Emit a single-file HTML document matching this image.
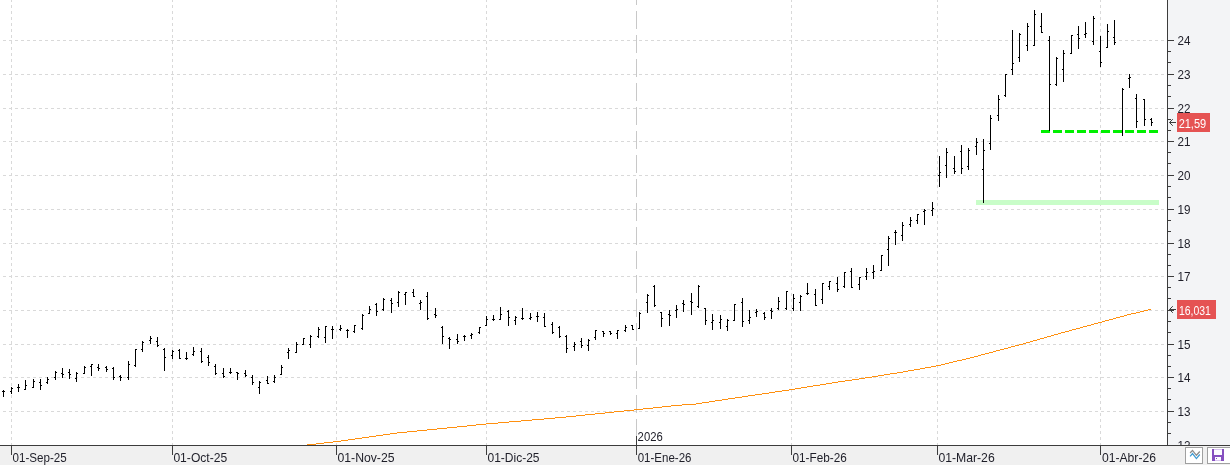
<!DOCTYPE html>
<html><head><meta charset="utf-8"><title>Chart</title>
<style>
html,body{margin:0;padding:0;background:#fff;}
body{width:1230px;height:465px;overflow:hidden;position:relative;}
svg{position:absolute;left:0;top:0;display:block;}
svg text{font-family:"Liberation Sans",Arial,sans-serif;font-size:12.4px;fill:#1e1e28;}
</style></head><body>
<svg width="1230" height="465" viewBox="0 0 1230 465" shape-rendering="crispEdges">
<rect x="0" y="0" width="1230" height="465" fill="#ffffff"/>
<rect x="1168" y="0" width="62" height="445" fill="#f3f4f6"/>
<rect x="0" y="446" width="1230" height="19" fill="#f0f0f0"/>
<g stroke="#d9d9d9" stroke-width="1" stroke-dasharray="3 3" fill="none">
<line x1="0" y1="40.5" x2="1167" y2="40.5" stroke-dashoffset="3"/>
<line x1="0" y1="74.5" x2="1167" y2="74.5" stroke-dashoffset="3"/>
<line x1="0" y1="108.5" x2="1167" y2="108.5" stroke-dashoffset="3"/>
<line x1="0" y1="141.5" x2="1167" y2="141.5" stroke-dashoffset="3"/>
<line x1="0" y1="175.5" x2="1167" y2="175.5" stroke-dashoffset="3"/>
<line x1="0" y1="209.5" x2="1167" y2="209.5" stroke-dashoffset="3"/>
<line x1="0" y1="243.5" x2="1167" y2="243.5" stroke-dashoffset="3"/>
<line x1="0" y1="276.5" x2="1167" y2="276.5" stroke-dashoffset="3"/>
<line x1="0" y1="310.5" x2="1167" y2="310.5" stroke-dashoffset="3"/>
<line x1="0" y1="344.5" x2="1167" y2="344.5" stroke-dashoffset="3"/>
<line x1="0" y1="377.5" x2="1167" y2="377.5" stroke-dashoffset="3"/>
<line x1="0" y1="411.5" x2="1167" y2="411.5" stroke-dashoffset="3"/>
<line x1="11.5" y1="0" x2="11.5" y2="445" stroke-dashoffset="1"/>
<line x1="172.5" y1="0" x2="172.5" y2="445" stroke-dashoffset="1"/>
<line x1="336.5" y1="0" x2="336.5" y2="445" stroke-dashoffset="1"/>
<line x1="486.5" y1="0" x2="486.5" y2="445" stroke-dashoffset="1"/>
<line x1="791.5" y1="0" x2="791.5" y2="445" stroke-dashoffset="1"/>
<line x1="937.5" y1="0" x2="937.5" y2="445" stroke-dashoffset="1"/>
<line x1="1100.5" y1="0" x2="1100.5" y2="445" stroke-dashoffset="1"/>
</g>
<line x1="636.5" y1="0" x2="636.5" y2="436" stroke="#c8c8c8" stroke-width="1" stroke-dasharray="18 6" stroke-dashoffset="13"/>
<rect x="976" y="200" width="183" height="5" fill="#c8fdc8"/>
<g fill="#00f000"><rect x="1041" y="130" width="9" height="3"/><rect x="1053" y="130" width="9" height="3"/><rect x="1065" y="130" width="9" height="3"/><rect x="1077" y="130" width="9" height="3"/><rect x="1089" y="130" width="9" height="3"/><rect x="1101" y="130" width="9" height="3"/><rect x="1113" y="130" width="9" height="3"/><rect x="1125" y="130" width="9" height="3"/><rect x="1137" y="130" width="9" height="3"/><rect x="1149" y="130" width="9" height="3"/></g>
<path d="M307 444h9v1h-9zM316 443h8v1h-8zM324 442h9v1h-9zM333 441h8v1h-8zM341 440h7v1h-7zM348 439h7v1h-7zM355 438h7v1h-7zM362 437h7v1h-7zM369 436h7v1h-7zM376 435h7v1h-7zM383 434h7v1h-7zM390 433h7v1h-7zM397 432h10v1h-10zM407 431h10v1h-10zM417 430h10v1h-10zM427 429h10v1h-10zM437 428h10v1h-10zM447 427h10v1h-10zM457 426h10v1h-10zM467 425h9v1h-9zM476 424h10v1h-10zM486 423h12v1h-12zM498 422h11v1h-11zM509 421h12v1h-12zM521 420h11v1h-11zM532 419h12v1h-12zM544 418h11v1h-11zM555 417h11v1h-11zM566 416h10v1h-10zM576 415h9v1h-9zM585 414h10v1h-10zM595 413h10v1h-10zM605 412h9v1h-9zM614 411h10v1h-10zM624 410h10v1h-10zM634 409h9v1h-9zM643 408h10v1h-10zM653 407h9v1h-9zM662 406h9v1h-9zM671 405h11v1h-11zM682 404h14v1h-14zM696 403h6v1h-6zM702 402h7v1h-7zM709 401h6v1h-6zM715 400h7v1h-7zM722 399h6v1h-6zM728 398h7v1h-7zM735 397h7v1h-7zM742 396h6v1h-6zM748 395h7v1h-7zM755 394h7v1h-7zM762 393h7v1h-7zM769 392h6v1h-6zM775 391h7v1h-7zM782 390h7v1h-7zM789 389h6v1h-6zM795 388h6v1h-6zM801 387h6v1h-6zM807 386h6v1h-6zM813 385h7v1h-7zM820 384h6v1h-6zM826 383h6v1h-6zM832 382h6v1h-6zM838 381h7v1h-7zM845 380h7v1h-7zM852 379h7v1h-7zM859 378h6v1h-6zM865 377h7v1h-7zM872 376h6v1h-6zM878 375h6v1h-6zM884 374h6v1h-6zM890 373h7v1h-7zM897 372h6v1h-6zM903 371h5v1h-5zM908 370h6v1h-6zM914 369h6v1h-6zM920 368h5v1h-5zM925 367h6v1h-6zM931 366h5v1h-5zM936 365h5v1h-5zM941 364h4v1h-4zM945 363h4v1h-4zM949 362h4v1h-4zM953 361h4v1h-4zM957 360h5v1h-5zM962 359h4v1h-4zM966 358h4v1h-4zM970 357h4v1h-4zM974 356h4v1h-4zM978 355h3v1h-3zM981 354h4v1h-4zM985 353h4v1h-4zM989 352h4v1h-4zM993 351h3v1h-3zM996 350h4v1h-4zM1000 349h4v1h-4zM1004 348h4v1h-4zM1008 347h3v1h-3zM1011 346h4v1h-4zM1015 345h4v1h-4zM1019 344h4v1h-4zM1023 343h3v1h-3zM1026 342h4v1h-4zM1030 341h3v1h-3zM1033 340h4v1h-4zM1037 339h3v1h-3zM1040 338h4v1h-4zM1044 337h3v1h-3zM1047 336h4v1h-4zM1051 335h3v1h-3zM1054 334h4v1h-4zM1058 333h3v1h-3zM1061 332h4v1h-4zM1065 331h4v1h-4zM1069 330h3v1h-3zM1072 329h4v1h-4zM1076 328h4v1h-4zM1080 327h3v1h-3zM1083 326h4v1h-4zM1087 325h4v1h-4zM1091 324h3v1h-3zM1094 323h4v1h-4zM1098 322h4v1h-4zM1102 321h3v1h-3zM1105 320h4v1h-4zM1109 319h4v1h-4zM1113 318h3v1h-3zM1116 317h4v1h-4zM1120 316h4v1h-4zM1124 315h3v1h-3zM1127 314h4v1h-4zM1131 313h5v1h-5zM1136 312h4v1h-4zM1140 311h4v1h-4zM1144 310h4v1h-4zM1148 309h3v1h-3z" fill="#ff9010"/>
<path d="M3 390h1v7h-1zM2 391h1v1h-1zM4 391h1v1h-1zM11 387h1v7h-1zM10 391h1v1h-1zM12 388h1v1h-1zM18 384h1v8h-1zM17 387h1v1h-1zM19 387h1v1h-1zM25 380h1v10h-1zM24 389h1v1h-1zM26 385h1v1h-1zM33 379h1v9h-1zM32 387h1v1h-1zM34 381h1v1h-1zM40 379h1v11h-1zM39 382h1v1h-1zM41 385h1v1h-1zM47 377h1v7h-1zM46 382h1v1h-1zM48 379h1v1h-1zM55 371h1v9h-1zM54 377h1v1h-1zM56 372h1v1h-1zM62 368h1v10h-1zM61 373h1v1h-1zM63 374h1v1h-1zM69 369h1v10h-1zM68 372h1v1h-1zM70 374h1v1h-1zM76 372h1v10h-1zM75 378h1v1h-1zM77 373h1v1h-1zM84 366h1v8h-1zM83 373h1v1h-1zM85 367h1v1h-1zM91 364h1v12h-1zM90 366h1v1h-1zM92 364h1v1h-1zM98 364h1v7h-1zM97 367h1v1h-1zM99 368h1v1h-1zM106 366h1v6h-1zM105 367h1v1h-1zM107 369h1v1h-1zM113 367h1v13h-1zM112 368h1v1h-1zM114 377h1v1h-1zM120 375h1v6h-1zM119 376h1v1h-1zM121 377h1v1h-1zM128 361h1v19h-1zM127 377h1v1h-1zM129 364h1v1h-1zM135 349h1v18h-1zM134 365h1v1h-1zM136 349h1v1h-1zM142 341h1v11h-1zM141 349h1v1h-1zM143 342h1v1h-1zM150 336h1v8h-1zM149 340h1v1h-1zM151 338h1v1h-1zM157 337h1v10h-1zM156 341h1v1h-1zM158 345h1v1h-1zM164 348h1v23h-1zM163 349h1v1h-1zM165 357h1v1h-1zM172 350h1v9h-1zM171 355h1v1h-1zM173 351h1v1h-1zM179 349h1v10h-1zM178 350h1v1h-1zM180 358h1v1h-1zM186 352h1v8h-1zM185 358h1v1h-1zM187 358h1v1h-1zM193 347h1v9h-1zM192 354h1v1h-1zM194 351h1v1h-1zM201 348h1v15h-1zM200 351h1v1h-1zM202 361h1v1h-1zM208 355h1v11h-1zM207 357h1v1h-1zM209 362h1v1h-1zM215 364h1v11h-1zM214 366h1v1h-1zM216 373h1v1h-1zM223 368h1v10h-1zM222 373h1v1h-1zM224 376h1v1h-1zM230 368h1v6h-1zM229 372h1v1h-1zM231 372h1v1h-1zM237 372h1v8h-1zM236 372h1v1h-1zM238 373h1v1h-1zM245 370h1v7h-1zM244 373h1v1h-1zM246 375h1v1h-1zM252 375h1v10h-1zM251 377h1v1h-1zM253 382h1v1h-1zM259 381h1v13h-1zM258 387h1v1h-1zM260 382h1v1h-1zM267 376h1v8h-1zM266 380h1v1h-1zM268 383h1v1h-1zM274 375h1v8h-1zM273 381h1v1h-1zM275 377h1v1h-1zM281 365h1v10h-1zM280 374h1v1h-1zM282 367h1v1h-1zM288 348h1v11h-1zM287 352h1v1h-1zM289 350h1v1h-1zM296 342h1v11h-1zM295 352h1v1h-1zM297 344h1v1h-1zM303 338h1v7h-1zM302 344h1v1h-1zM304 338h1v1h-1zM310 335h1v13h-1zM309 344h1v1h-1zM311 336h1v1h-1zM318 327h1v11h-1zM317 336h1v1h-1zM319 329h1v1h-1zM325 326h1v17h-1zM324 337h1v1h-1zM326 326h1v1h-1zM332 326h1v13h-1zM331 329h1v1h-1zM333 329h1v1h-1zM340 325h1v6h-1zM339 329h1v1h-1zM341 328h1v1h-1zM347 329h1v9h-1zM346 330h1v1h-1zM348 330h1v1h-1zM354 325h1v8h-1zM353 331h1v1h-1zM355 325h1v1h-1zM362 314h1v16h-1zM361 328h1v1h-1zM363 315h1v1h-1zM369 306h1v8h-1zM368 313h1v1h-1zM370 309h1v1h-1zM376 303h1v13h-1zM375 304h1v1h-1zM377 311h1v1h-1zM383 298h1v13h-1zM382 309h1v1h-1zM384 299h1v1h-1zM391 298h1v15h-1zM390 300h1v1h-1zM392 303h1v1h-1zM398 291h1v16h-1zM397 302h1v1h-1zM399 292h1v1h-1zM405 292h1v13h-1zM404 294h1v1h-1zM406 292h1v1h-1zM413 289h1v8h-1zM412 292h1v1h-1zM414 296h1v1h-1zM420 300h1v10h-1zM419 303h1v1h-1zM421 302h1v1h-1zM427 292h1v28h-1zM426 296h1v1h-1zM428 318h1v1h-1zM435 308h1v10h-1zM434 314h1v1h-1zM436 315h1v1h-1zM442 326h1v18h-1zM441 327h1v1h-1zM443 336h1v1h-1zM449 337h1v12h-1zM448 338h1v1h-1zM450 339h1v1h-1zM457 334h1v10h-1zM456 339h1v1h-1zM458 341h1v1h-1zM464 335h1v6h-1zM463 336h1v1h-1zM465 336h1v1h-1zM471 333h1v6h-1zM470 335h1v1h-1zM472 334h1v1h-1zM479 327h1v7h-1zM478 332h1v1h-1zM480 327h1v1h-1zM486 316h1v10h-1zM485 325h1v1h-1zM487 319h1v1h-1zM493 315h1v6h-1zM492 319h1v1h-1zM494 319h1v1h-1zM500 307h1v13h-1zM499 319h1v1h-1zM501 314h1v1h-1zM508 310h1v16h-1zM507 311h1v1h-1zM509 317h1v1h-1zM515 316h1v9h-1zM514 320h1v1h-1zM516 317h1v1h-1zM522 308h1v12h-1zM521 318h1v1h-1zM523 318h1v1h-1zM530 313h1v7h-1zM529 318h1v1h-1zM531 317h1v1h-1zM537 312h1v10h-1zM536 316h1v1h-1zM538 316h1v1h-1zM544 313h1v14h-1zM543 317h1v1h-1zM545 326h1v1h-1zM552 322h1v12h-1zM551 324h1v1h-1zM553 332h1v1h-1zM559 326h1v12h-1zM558 327h1v1h-1zM560 336h1v1h-1zM566 335h1v18h-1zM565 336h1v1h-1zM567 348h1v1h-1zM574 342h1v9h-1zM573 346h1v1h-1zM575 344h1v1h-1zM581 338h1v10h-1zM580 341h1v1h-1zM582 345h1v1h-1zM588 339h1v12h-1zM587 345h1v1h-1zM589 340h1v1h-1zM595 330h1v10h-1zM594 337h1v1h-1zM596 330h1v1h-1zM603 331h1v6h-1zM602 331h1v1h-1zM604 333h1v1h-1zM610 331h1v4h-1zM609 331h1v1h-1zM611 333h1v1h-1zM617 330h1v9h-1zM616 333h1v1h-1zM618 330h1v1h-1zM625 325h1v7h-1zM624 330h1v1h-1zM626 327h1v1h-1zM632 325h1v5h-1zM631 325h1v1h-1zM633 329h1v1h-1zM639 312h1v17h-1zM638 328h1v1h-1zM640 313h1v1h-1zM647 294h1v19h-1zM646 302h1v1h-1zM648 295h1v1h-1zM654 285h1v22h-1zM653 286h1v1h-1zM655 305h1v1h-1zM661 312h1v15h-1zM660 312h1v1h-1zM662 318h1v1h-1zM669 310h1v16h-1zM668 314h1v1h-1zM670 315h1v1h-1zM676 305h1v13h-1zM675 310h1v1h-1zM677 309h1v1h-1zM683 300h1v12h-1zM682 303h1v1h-1zM684 304h1v1h-1zM691 293h1v22h-1zM690 301h1v1h-1zM692 302h1v1h-1zM698 285h1v23h-1zM697 306h1v1h-1zM699 286h1v1h-1zM705 308h1v17h-1zM704 308h1v1h-1zM706 320h1v1h-1zM712 314h1v16h-1zM711 322h1v1h-1zM713 320h1v1h-1zM720 315h1v14h-1zM719 322h1v1h-1zM721 319h1v1h-1zM727 319h1v12h-1zM726 326h1v1h-1zM728 320h1v1h-1zM734 304h1v17h-1zM733 320h1v1h-1zM735 304h1v1h-1zM742 298h1v29h-1zM741 302h1v1h-1zM743 321h1v1h-1zM749 310h1v14h-1zM748 320h1v1h-1zM750 317h1v1h-1zM756 309h1v8h-1zM755 312h1v1h-1zM757 311h1v1h-1zM764 312h1v8h-1zM763 313h1v1h-1zM765 317h1v1h-1zM771 308h1v11h-1zM770 310h1v1h-1zM772 311h1v1h-1zM778 297h1v13h-1zM777 308h1v1h-1zM779 301h1v1h-1zM786 291h1v19h-1zM785 308h1v1h-1zM787 291h1v1h-1zM793 294h1v17h-1zM792 308h1v1h-1zM794 298h1v1h-1zM800 295h1v16h-1zM799 302h1v1h-1zM801 296h1v1h-1zM807 283h1v12h-1zM806 293h1v1h-1zM808 293h1v1h-1zM815 289h1v17h-1zM814 294h1v1h-1zM816 305h1v1h-1zM822 283h1v21h-1zM821 299h1v1h-1zM823 283h1v1h-1zM829 281h1v9h-1zM828 286h1v1h-1zM830 281h1v1h-1zM837 277h1v15h-1zM836 283h1v1h-1zM838 289h1v1h-1zM844 272h1v16h-1zM843 286h1v1h-1zM845 272h1v1h-1zM851 268h1v20h-1zM850 271h1v1h-1zM852 287h1v1h-1zM859 277h1v13h-1zM858 284h1v1h-1zM860 277h1v1h-1zM866 268h1v12h-1zM865 276h1v1h-1zM867 272h1v1h-1zM873 265h1v14h-1zM872 272h1v1h-1zM874 271h1v1h-1zM881 255h1v16h-1zM880 270h1v1h-1zM882 255h1v1h-1zM888 236h1v30h-1zM887 249h1v1h-1zM889 238h1v1h-1zM895 230h1v15h-1zM894 232h1v1h-1zM896 232h1v1h-1zM902 222h1v19h-1zM901 235h1v1h-1zM903 225h1v1h-1zM910 217h1v10h-1zM909 224h1v1h-1zM911 220h1v1h-1zM917 214h1v10h-1zM916 220h1v1h-1zM918 214h1v1h-1zM924 209h1v16h-1zM923 211h1v1h-1zM925 210h1v1h-1zM932 202h1v14h-1zM931 210h1v1h-1zM933 208h1v1h-1zM939 156h1v31h-1zM938 175h1v1h-1zM940 172h1v1h-1zM946 148h1v30h-1zM945 165h1v1h-1zM947 152h1v1h-1zM954 156h1v18h-1zM953 168h1v1h-1zM955 171h1v1h-1zM961 145h1v29h-1zM960 151h1v1h-1zM962 168h1v1h-1zM968 148h1v22h-1zM967 166h1v1h-1zM969 150h1v1h-1zM976 138h1v17h-1zM975 146h1v1h-1zM977 142h1v1h-1zM983 139h1v64h-1zM982 169h1v1h-1zM984 150h1v1h-1zM990 115h1v35h-1zM989 143h1v1h-1zM991 118h1v1h-1zM998 95h1v26h-1zM997 115h1v1h-1zM999 99h1v1h-1zM1005 74h1v23h-1zM1004 95h1v1h-1zM1006 74h1v1h-1zM1012 30h1v45h-1zM1011 69h1v1h-1zM1013 63h1v1h-1zM1019 33h1v29h-1zM1018 57h1v1h-1zM1020 34h1v1h-1zM1027 23h1v28h-1zM1026 45h1v1h-1zM1028 26h1v1h-1zM1034 10h1v36h-1zM1033 45h1v1h-1zM1035 14h1v1h-1zM1041 13h1v20h-1zM1040 26h1v1h-1zM1042 32h1v1h-1zM1049 36h1v95h-1zM1048 40h1v1h-1zM1050 84h1v1h-1zM1056 57h1v29h-1zM1055 84h1v1h-1zM1057 58h1v1h-1zM1063 50h1v32h-1zM1062 69h1v1h-1zM1064 53h1v1h-1zM1071 35h1v19h-1zM1070 53h1v1h-1zM1072 35h1v1h-1zM1078 26h1v23h-1zM1077 34h1v1h-1zM1079 38h1v1h-1zM1085 22h1v16h-1zM1084 34h1v1h-1zM1086 33h1v1h-1zM1093 16h1v29h-1zM1092 41h1v1h-1zM1094 18h1v1h-1zM1100 36h1v31h-1zM1099 51h1v1h-1zM1101 62h1v1h-1zM1107 24h1v24h-1zM1106 47h1v1h-1zM1108 31h1v1h-1zM1114 20h1v25h-1zM1113 37h1v1h-1zM1115 42h1v1h-1zM1122 88h1v48h-1zM1123 89h1v1h-1zM1129 74h1v14h-1zM1128 78h1v1h-1zM1130 77h1v1h-1zM1136 94h1v34h-1zM1135 98h1v1h-1zM1137 121h1v1h-1zM1144 99h1v27h-1zM1143 99h1v1h-1zM1145 119h1v1h-1zM1151 118h1v8h-1zM1150 119h1v1h-1zM1152 122h1v1h-1z" fill="#000"/>
<rect x="1167" y="0" width="1" height="446" fill="#3c3c3c"/>
<rect x="0" y="445" width="1230" height="1" fill="#3c3c3c"/>
<path d="M1168 40h6v1h-6zM1168 51h3v1h-3zM1168 62h3v1h-3zM1168 74h6v1h-6zM1168 85h3v1h-3zM1168 96h3v1h-3zM1168 108h6v1h-6zM1168 119h3v1h-3zM1168 130h3v1h-3zM1168 141h6v1h-6zM1168 152h3v1h-3zM1168 163h3v1h-3zM1168 175h6v1h-6zM1168 186h3v1h-3zM1168 197h3v1h-3zM1168 209h6v1h-6zM1168 220h3v1h-3zM1168 231h3v1h-3zM1168 243h6v1h-6zM1168 254h3v1h-3zM1168 265h3v1h-3zM1168 276h6v1h-6zM1168 287h3v1h-3zM1168 298h3v1h-3zM1168 310h6v1h-6zM1168 321h3v1h-3zM1168 332h3v1h-3zM1168 344h6v1h-6zM1168 355h3v1h-3zM1168 366h3v1h-3zM1168 377h6v1h-6zM1168 388h3v1h-3zM1168 399h3v1h-3zM1168 411h6v1h-6zM1168 422h3v1h-3zM1168 433h3v1h-3zM1168 445h6v1h-6z" fill="#3c3c3c"/>
<path d="M11 445h1v10h-1zM172 445h1v10h-1zM336 445h1v10h-1zM486 445h1v10h-1zM791 445h1v10h-1zM937 445h1v10h-1zM1100 445h1v10h-1zM636 436h1v19h-1z" fill="#3c3c3c"/>
</svg>
<svg width="1230" height="465" viewBox="0 0 1230 465">
<defs><clipPath id="cp"><rect x="1168" y="0" width="62" height="445"/></clipPath></defs>
<g clip-path="url(#cp)">
<text x="1177.4" y="45" textLength="13" lengthAdjust="spacingAndGlyphs">24</text>
<text x="1177.4" y="79" textLength="13" lengthAdjust="spacingAndGlyphs">23</text>
<text x="1177.4" y="113" textLength="13" lengthAdjust="spacingAndGlyphs">22</text>
<text x="1177.4" y="146" textLength="13" lengthAdjust="spacingAndGlyphs">21</text>
<text x="1177.4" y="180" textLength="13" lengthAdjust="spacingAndGlyphs">20</text>
<text x="1177.4" y="214" textLength="13" lengthAdjust="spacingAndGlyphs">19</text>
<text x="1177.4" y="248" textLength="13" lengthAdjust="spacingAndGlyphs">18</text>
<text x="1177.4" y="281" textLength="13" lengthAdjust="spacingAndGlyphs">17</text>
<text x="1177.4" y="315" textLength="13" lengthAdjust="spacingAndGlyphs">16</text>
<text x="1177.4" y="349" textLength="13" lengthAdjust="spacingAndGlyphs">15</text>
<text x="1177.4" y="382" textLength="13" lengthAdjust="spacingAndGlyphs">14</text>
<text x="1177.4" y="416" textLength="13" lengthAdjust="spacingAndGlyphs">13</text>
<text x="1177.4" y="450" textLength="13" lengthAdjust="spacingAndGlyphs">12</text>
</g>
<text x="12.52" y="462" textLength="54.21" lengthAdjust="spacingAndGlyphs">01-Sep-25</text>
<text x="173.40" y="462" textLength="53.79" lengthAdjust="spacingAndGlyphs">01-Oct-25</text>
<text x="337.49" y="462" textLength="57.05" lengthAdjust="spacingAndGlyphs">01-Nov-25</text>
<text x="487.50" y="462" textLength="52.03" lengthAdjust="spacingAndGlyphs">01-Dic-25</text>
<text x="637.72" y="462" textLength="53.80" lengthAdjust="spacingAndGlyphs">01-Ene-26</text>
<text x="792.51" y="462" textLength="54.28" lengthAdjust="spacingAndGlyphs">01-Feb-26</text>
<text x="938.39" y="462" textLength="56.30" lengthAdjust="spacingAndGlyphs">01-Mar-26</text>
<text x="1101.89" y="462" textLength="54.11" lengthAdjust="spacingAndGlyphs">01-Abr-26</text>
<text x="637.61" y="441" textLength="25.13" lengthAdjust="spacingAndGlyphs">2026</text>
<rect x="1177" y="113" width="33" height="19" fill="#e55353" shape-rendering="crispEdges"/>
<text x="1178.63" y="128" textLength="27.56" lengthAdjust="spacingAndGlyphs" style="fill:#fff">21,59</text>
<rect x="1177" y="300" width="39" height="19" fill="#e55353" shape-rendering="crispEdges"/>
<text x="1178.94" y="315" textLength="31.97" lengthAdjust="spacingAndGlyphs" style="fill:#fff">16,031</text>
<path d="M1169.5 122.5H1176M1172.8 119.2L1169.5 122.5L1172.8 125.8" stroke="#3c3c3c" stroke-width="1" fill="none"/>
<path d="M1169.5 309.5H1176M1172.8 306.2L1169.5 309.5L1172.8 312.8" stroke="#3c3c3c" stroke-width="1" fill="none"/>
<rect x="1185.5" y="447.5" width="17" height="16" fill="#fff" stroke="#a0a0a0" stroke-width="1"/>
<path d="M1190.1 453L1192.5 450.4L1196.4 455.3L1199.8 451.5" stroke="#8c8c8c" stroke-width="1.3" fill="none"/>
<path d="M1190.1 456.4L1192.5 453.6L1196.4 458.6L1199.8 454.5" stroke="#3f9bd3" stroke-width="1.25" fill="none"/>
<rect x="1207.5" y="447.5" width="24" height="16" fill="#fff" stroke="#a0a0a0" stroke-width="1"/>
<g shape-rendering="crispEdges"><rect x="1212" y="449" width="12" height="12" fill="#8650c0"/><rect x="1214" y="449" width="8" height="1" fill="#dac6f2"/><rect x="1214" y="450" width="8" height="5" fill="#fdfcff"/><rect x="1215" y="457" width="6" height="3" fill="#fdfcff"/><rect x="1215" y="460" width="6" height="1" fill="#dac6f2"/><rect x="1216" y="458" width="1" height="1" fill="#8650c0"/></g>
</svg>
</body></html>
